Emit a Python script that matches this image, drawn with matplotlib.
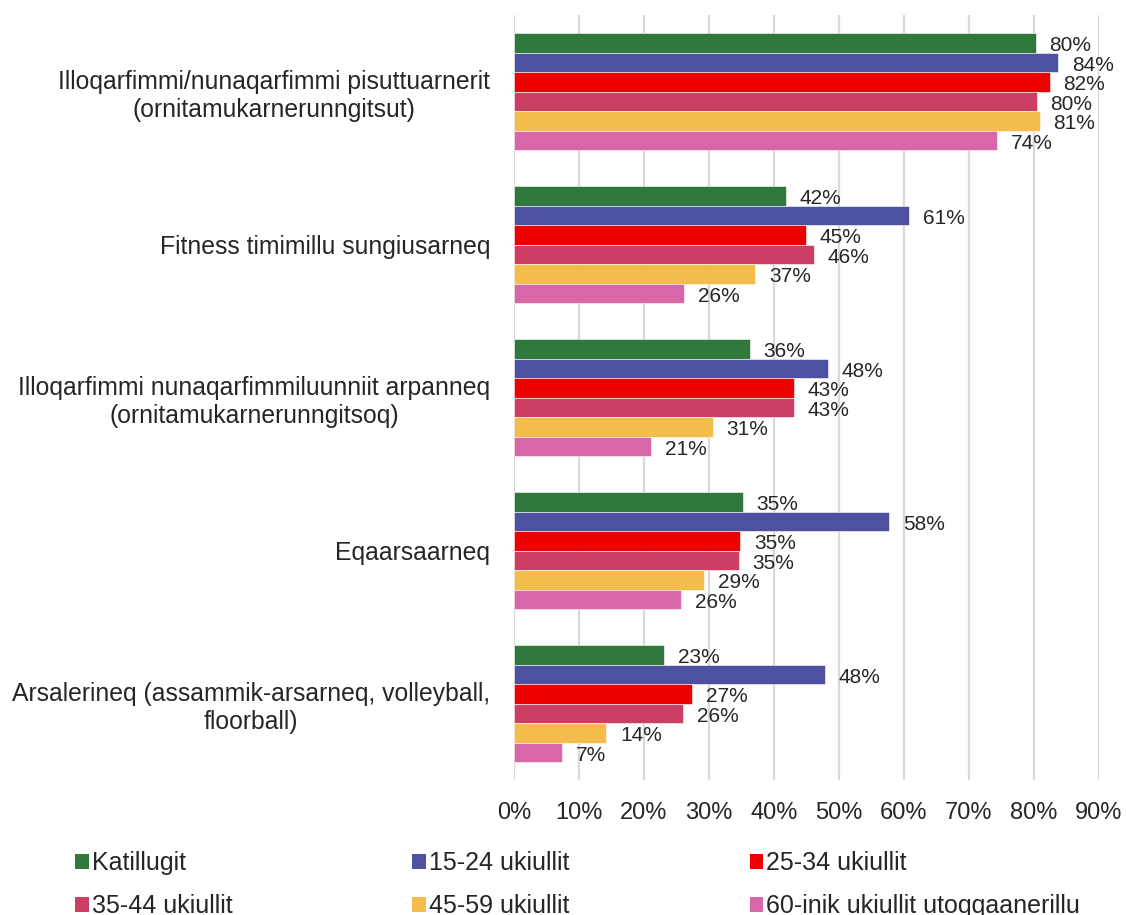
import numpy as np
import matplotlib
matplotlib.use('Agg')
import matplotlib.pyplot as plt
from matplotlib.patches import Patch

plt.rcParams['font.family'] = ['Liberation Sans', 'DejaVu Sans']

# data
categories = ['Illoqarfimmi/nunaqarfimmi pisuttuarnerit\n(ornitamukarnerunngitsut)',
              'Fitness timimillu sungiusarneq',
              'Illoqarfimmi nunaqarfimmiluunniit arpanneq\n(ornitamukarnerunngitsoq)',
              'Eqaarsaarneq',
              'Arsalerineq (assammik-arsarneq, volleyball,\nfloorball)']
series = ['Katillugit', '15-24 ukiullit', '25-34 ukiullit',
          '35-44 ukiullit', '45-59 ukiullit', '60-inik ukiullit utoqqaanerillu']
katillugit = [0.803, 0.418, 0.363, 0.352, 0.231]
age_15_24 = [0.837, 0.608, 0.483, 0.577, 0.478]
age_25_34 = [0.824, 0.449, 0.431, 0.348, 0.274]
age_35_44 = [0.804, 0.462, 0.431, 0.346, 0.260]
age_45_59 = [0.809, 0.371, 0.306, 0.293, 0.142]
age_60 = [0.743, 0.262, 0.211, 0.257, 0.074]
values = [katillugit, age_15_24, age_25_34, age_35_44, age_45_59, age_60]
colors = ['#31783C', '#4E50A0', '#EE0000', '#CC3E63', '#F4BC4B', '#D967A8']
xticks = np.arange(0, 0.91, 0.1)

text_col = '#262626'

fig = plt.figure(figsize=(11.26, 9.15), dpi=100)
ax = fig.add_axes([0.4565, 0.1475, 0.5195, 0.836])

y = np.arange(len(categories))
h = 0.1275
n = len(series)
for i, (vals, c, name) in enumerate(zip(values, colors, series)):
    pos = y - (n / 2) * h + (i + 0.5) * h
    ax.barh(pos, vals, height=h, color=c, edgecolor='white', linewidth=0.4,
            label=name, zorder=3)
    for p, v in zip(pos, vals):
        ax.text(v + 0.021, p + 0.02, f'{round(v * 100):.0f}%', va='center',
                ha='left', fontsize=15, color=text_col, zorder=4)

ax.set_ylim(len(categories) - 0.5, -0.5)
ax.set_xlim(0, 0.9)
ax.set_xticks(xticks)
ax.set_xticklabels([f'{round(t * 100)}%' for t in xticks], fontsize=17, color=text_col)
ax.set_yticks(y)
ax.set_yticklabels(categories, fontsize=17.8, color=text_col, multialignment='center')
ax.tick_params(axis='both', length=0)
ax.tick_params(axis='x', pad=16)
ax.tick_params(axis='y', pad=17)
ax.grid(axis='x', color='#D9D9D9', linewidth=1.6, zorder=0)
for s in ax.spines.values():
    s.set_visible(False)

# legend fills row-wise in the reference, matplotlib fills by column
handles = [Patch(facecolor=c, label=s) for c, s in zip(colors, series)]
order = [0, 3, 1, 4, 2, 5]
handles = [handles[k] for k in order]
fig.legend(handles=handles, loc='upper left', bbox_to_anchor=(0.0667, 0.070),
           ncol=3, frameon=False, fontsize=18, handlelength=0.55, handleheight=0.55,
           handletextpad=0.12, columnspacing=7.2, labelspacing=0.78,
           labelcolor=text_col, borderpad=0, borderaxespad=0)

fig.savefig('out.png', dpi=100)
